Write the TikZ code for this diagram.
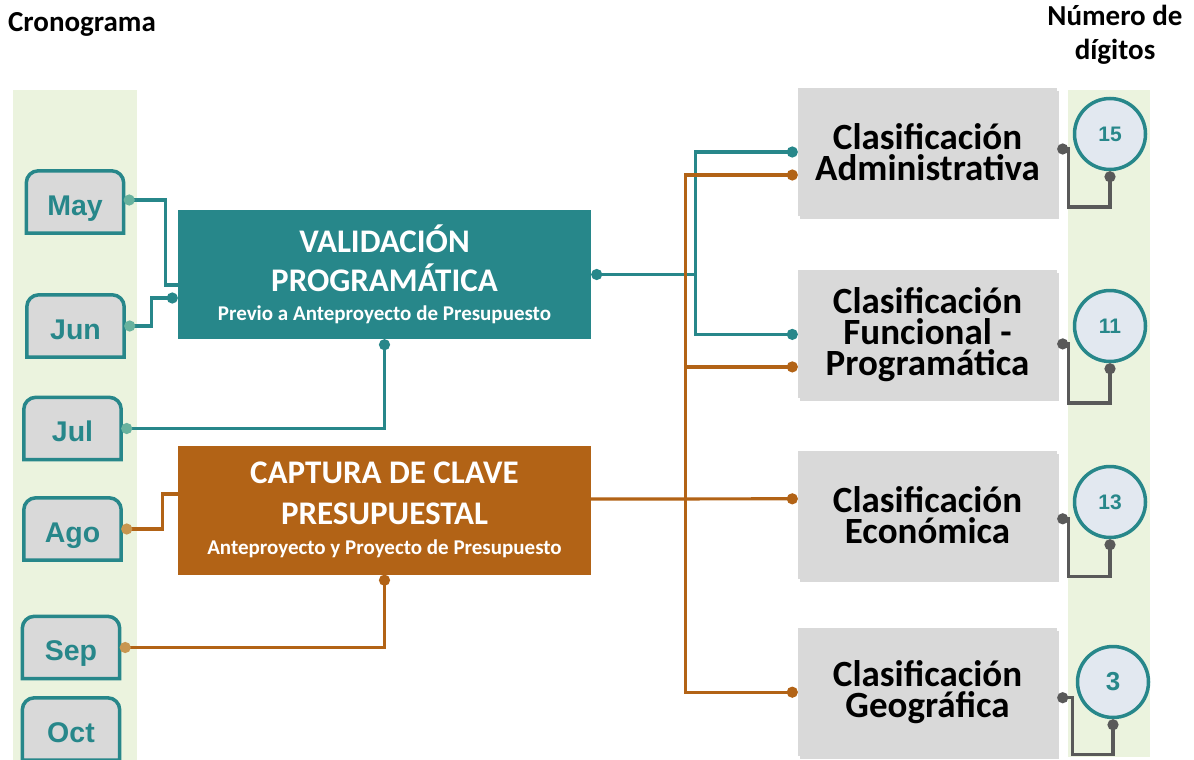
\documentclass[tikz,border=0pt]{standalone}
\usepackage{fontspec}
\setmainfont{Carlito}
\newfontfamily\arial{Liberation Sans}
\usetikzlibrary{positioning,arrows.meta,shadows,backgrounds}

\definecolor{verdeazul}{RGB}{39,135,138}
\definecolor{verdeclaro}{RGB}{104,178,158}
\definecolor{naranja}{RGB}{178,99,22}
\definecolor{naranjaclaro}{RGB}{200,150,80}
\definecolor{gris}{RGB}{217,217,217}
\definecolor{grisoscuro}{RGB}{89,89,89}
\definecolor{banda}{RGB}{235,243,222}
\definecolor{azulclaro}{RGB}{226,232,240}

\tikzset{
    mes/.style={minimum width=97pt, minimum height=62pt, inner sep=0pt,
        text height=26pt, text depth=0pt,
        text=verdeazul, font=\arial\bfseries\fontsize{28.5}{28.5}\selectfont},
    mesborde/.style={draw=verdeazul, line width=3.5pt, fill=gris},
    etapa/.style={fill=#1, minimum width=413pt, minimum height=129pt, inner sep=0pt,
        text=white, align=center},
    clase/.style={fill=gris, minimum width=259pt, minimum height=128pt, inner sep=0pt,
        align=center, font=\bfseries\fontsize{37}{31}\selectfont,
        drop shadow={shadow xshift=2pt, shadow yshift=-3pt, opacity=0.3}},
    digitos/.style={circle, draw=verdeazul, line width=3.5pt, fill=azulclaro,
        minimum size=71pt, inner sep=0pt, text=verdeazul,
        font=\arial\bfseries\fontsize{21}{21}\selectfont},
    liga/.style={draw=#1, line width=3.2pt},
    punto/.style={-{Circle[length=11pt]}},
    puntos/.style={{Circle[length=11pt]}-{Circle[length=11pt]}},
    titulo/.style={font=\bfseries\fontsize{29}{34}\selectfont, align=center}
}

\newcommand{\Mes}[3]{%
    \node[mes] (#1) at (#2) {#3};
    \begin{scope}[on background layer]
        \draw[mesborde] (#1.south west) [rounded corners=12pt] -- (#1.north west)
            -- (#1.north east) [sharp corners] -- (#1.south east) -- cycle;
    \end{scope}}

\begin{document}
\begin{tikzpicture}[x=1pt, y=-1pt]
    \useasboundingbox (0,0) rectangle (1194,760);
    \begin{scope}[on background layer]
        \fill[banda] (13,90) rectangle (137,760);
        \fill[banda] (1068,90) rectangle (1150,757);
    \end{scope}

    \node[titulo] (crono) at (82,24) {Cronograma};
    \node[titulo] (numdig) at (1115,35) {Número de\\dígitos};

    \Mes{may}{75,202}{May}
    \Mes{jun}{75.5,326}{Jun}
    \Mes{jul}{72.5,428.5}{Jul}
    \Mes{ago}{72.5,529}{Ago}
    \Mes{sep}{71,647.5}{Sep}
    \Mes{oct}{71,729}{Oct}

    \node[etapa=verdeazul, font=\bfseries\fontsize{33}{39}\selectfont] (val) at (384.5,274.5)
        {VALIDACIÓN\\PROGRAMÁTICA\\[-10pt]\fontsize{21}{21}\selectfont Previo a Anteproyecto de Presupuesto};
    \node[etapa=naranja, font=\bfseries\fontsize{33}{41}\selectfont] (cap) at (384.5,510)
        {CAPTURA DE CLAVE\\PRESUPUESTAL\\[-11pt]\fontsize{21}{21}\selectfont Anteproyecto y Proyecto de Presupuesto};

    \node[clase] (adm) at (927.5,152) {Clasificación\\Administrativa};
    \node[clase, below=54pt of adm] (fun) {Clasificación\\Funcional -\\Programática};
    \node[clase, below=52pt of fun] (eco) {Clasificación\\Económica};
    \node[clase, below=49pt of eco] (geo) {Clasificación\\Geográfica};

    \node[digitos] (d15) at (1110,134) {15};
    \node[digitos] (d11) at (1110,326) {11};
    \node[digitos] (d13) at (1110,502) {13};
    \node[digitos, font=\arial\bfseries\fontsize{26}{26}\selectfont] (d3) at (1113,682) {3};

    \draw[liga=verdeazul, {Circle[length=11pt, color=verdeclaro]}-] ([yshift=2pt]may.east)
        -| ([xshift=-12pt, yshift=-10.5pt]val.west) -- ([yshift=-10.5pt]val.west);
    \draw[liga=verdeazul, {Circle[length=11pt, color=verdeclaro]}-{Circle[length=11pt]}] (jun.east)
        -| ([xshift=-26pt, yshift=-23.5pt]val.west) -- ([yshift=-23.5pt]val.west);
    \draw[liga=verdeazul, {Circle[length=11pt, color=verdeclaro]}-{Circle[length=11pt]}] (jul.east) -| (val.south);
    \draw[liga=naranja, {Circle[length=11pt, color=naranjaclaro]}-] (ago.east)
        -| ([xshift=-15pt, yshift=16pt]cap.west) -- ([yshift=16pt]cap.west);
    \draw[liga=naranja, {Circle[length=11pt, color=naranjaclaro]}-{Circle[length=11pt]}] (sep.east) -| (cap.south);

    \draw[liga=verdeazul, puntos] (val.east) -- ++(104,0) coordinate (tronco) |- (adm.west);
    \draw[liga=verdeazul, punto] (tronco) |- (fun.west);

    \draw[liga=naranja, punto] ([yshift=11pt]cap.east) -- ([yshift=16pt]eco.west);
    \path ([yshift=11pt]cap.east) ++(94,0) coordinate (tronco2);
    \draw[liga=naranja, punto] (tronco2) |- ([yshift=-23pt]adm.west);
    \draw[liga=naranja, punto] (tronco2) |- ([yshift=-32.5pt]fun.west);
    \draw[liga=naranja, punto] (tronco2) |- (geo.west);

    \draw[liga=grisoscuro, puntos] ([yshift=3pt]adm.east) -| ++(11,58) -| (d15.south);
    \draw[liga=grisoscuro, puntos] ([yshift=-9.5pt]fun.east) -| ++(11,59) -| (d11.south);
    \draw[liga=grisoscuro, puntos] ([yshift=-4pt]eco.east) -| ++(11,58) -| (d13.south);
    \draw[liga=grisoscuro, puntos] ([yshift=-5.5pt]geo.east) -| ++(15,57) -| (d3.south);
\end{tikzpicture}
\end{document}
